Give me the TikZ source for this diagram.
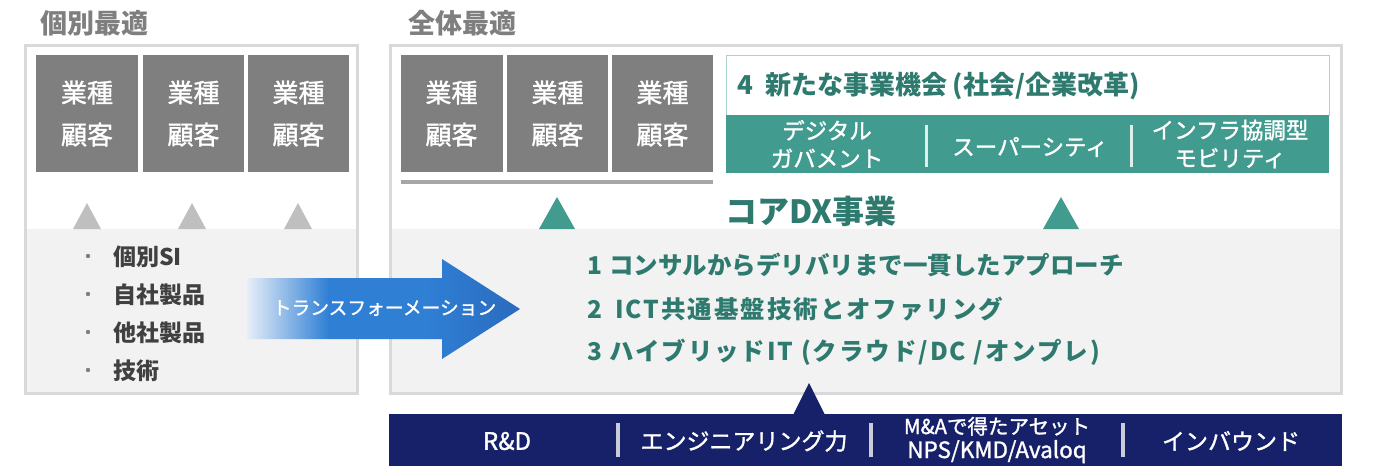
\documentclass[tikz,border=0pt]{standalone}
\usepackage{fontspec}
\setmainfont{Noto Sans CJK JP}
\newfontface\med[FakeBold=1.3]{Noto Sans CJK JP}
\definecolor{boxgray}{HTML}{7F7F7F}
\definecolor{bordergray}{HTML}{D9D9D9}
\definecolor{lightbg}{HTML}{F2F2F2}
\definecolor{trigray}{HTML}{BFBFBF}
\definecolor{bargray}{HTML}{A6A6A6}
\definecolor{tealband}{HTML}{429B8F}
\definecolor{tealline}{HTML}{A9D3CD}
\definecolor{tealtext}{HTML}{2E7A6F}
\definecolor{navyband}{HTML}{172169}
\definecolor{textdark}{HTML}{404040}
\definecolor{sepnavy}{HTML}{C9CCD9}
\definecolor{septeal}{HTML}{DDEFEC}
\definecolor{arrowpale}{HTML}{E6EEF8}
\definecolor{arrowblue}{HTML}{2F7FD5}
\definecolor{arrowdark}{HTML}{2A6BBE}
\pgfdeclarehorizontalshading{tfshade}{100bp}{color(0bp)=(arrowpale); color(25bp)=(arrowpale); color(40bp)=(arrowblue); color(58bp)=(arrowblue); color(75bp)=(arrowdark); color(100bp)=(arrowdark)}
\newcommand{\fs}[2]{\fontsize{#1}{#2}\selectfont}
\begin{document}
\begin{tikzpicture}[x=1pt,y=-1pt,
  graybox/.style={fill=boxgray, text=white, minimum width=102pt, minimum height=117pt, inner sep=0pt, align=center, font=\med\fs{26}{42}},
  title/.style={anchor=west, inner sep=0pt, text=boxgray, font=\bfseries\fs{27}{30}},
  bullettext/.style={anchor=west, inner sep=0pt, text=textdark, font=\bfseries\fs{23}{26}},
  dxline/.style={anchor=west, inner sep=0pt, text=tealtext, font=\bfseries\fs{24.5}{28}},
  banditem/.style={inner sep=0pt, text=white, align=center, font=\med\fs{22.5}{28}},
  navyitem/.style={inner sep=0pt, text=white, align=center, font=\med\fs{23}{24}},
  frame/.style={draw=bordergray, line width=3pt}
]
\useasboundingbox (0,0) rectangle (1386,466);

% titles
\node[title] (t1) at (40,23) {個別最適};
\node[title] (t2) at (408,23) {全体最適};

% left frame
\fill[lightbg] (25,229) rectangle (357.5,393.5);
\draw[frame] (25,45) rectangle (357.5,393.5);
% right frame
\fill[lightbg] (390,229) rectangle (1341.5,393.5);
\draw[frame] (390,45) rectangle (1341.5,393.5);

% left gray boxes
\node[graybox] (l1) at (87,113.5) {業種\\顧客};
\node[graybox, minimum width=101pt] (l2) at (193.5,113.5) {業種\\顧客};
\node[graybox, minimum width=101pt] (l3) at (298.5,113.5) {業種\\顧客};
% gray triangles
\fill[trigray] (73,229) -- (87,203) -- (101,229) -- cycle;
\fill[trigray] (178,229) -- (192,203) -- (206,229) -- cycle;
\fill[trigray] (284,229) -- (298,203) -- (312,229) -- cycle;

% bullets
\foreach \yy in {256,294,332,370} \fill[boxgray] (88,\yy) circle (2.2);
\node[bullettext] (b1) at (113,257) {個別SI};
\node[bullettext] (b2) at (113,295) {自社製品};
\node[bullettext] (b3) at (113,333) {他社製品};
\node[bullettext] (b4) at (113,371) {技術};

% right gray boxes
\node[graybox] (r1) at (451.5,113.5) {業種\\顧客};
\node[graybox, minimum width=101pt] (r2) at (557.5,113.5) {業種\\顧客};
\node[graybox, minimum width=101pt] (r3) at (662.5,113.5) {業種\\顧客};
\fill[bargray] (401,180) rectangle (713,184);

% new business box
\node[draw=tealline, line width=1pt, minimum width=603pt, minimum height=60pt, inner sep=0pt] (newbiz) at (1027.5,85) {};
\node[anchor=west, inner sep=0pt, text=tealtext, font=\bfseries\fs{26}{28}] (newbiztxt) at (737,86) {4\hspace{12pt}新たな事業機会 (社会/企業改革)};
\node[fill=tealband, minimum width=603pt, minimum height=58pt, inner sep=0pt] (band) at (1027.5,144) {};
\node[banditem] (bi1) at (827,144) {デジタル\\ガバメント};
\node[banditem] (bi2) at (1030,147) {スーパーシティ};
\node[banditem] (bi3) at (1230,144) {インフラ協調型\\モビリティ};
\draw[septeal, line width=3pt] (926,125) -- (926,167);
\draw[septeal, line width=3pt] (1131,125) -- (1131,167);

% core DX
\node[anchor=west, inner sep=0pt, text=tealtext, font=\bfseries\fs{32}{36}] (core) at (725,211) {コアDX事業};
\fill[tealband] (539,229) -- (557,197) -- (575,229) -- cycle;
\fill[tealband] (1043,229) -- (1061,197) -- (1079,229) -- cycle;

% list
\node[dxline] (d1) at (587,265) {1\hspace{7pt}コンサルからデリバリまで一貫したアプローチ};
\node[dxline] (d2) at (587,309) {\addfontfeature{LetterSpace=8}2\hspace{13pt}ICT共通基盤技術とオファリング};
\node[dxline] (d3) at (587,352) {\addfontfeature{LetterSpace=8}3\hspace{7pt}ハイブリッドIT (クラウド/DC /オンプレ)};

% transformation arrow
\shade[shading=tfshade] (247,278) -- (442,278) -- (442,259) -- (520,309) -- (442,359) -- (442,339) -- (247,339) -- cycle;
\node[inner sep=0pt, text=white, font=\med\fs{18.75}{22}] (tf) at (384.5,308) {トランスフォーメーション};

% navy band
\node[fill=navyband, minimum width=953pt, minimum height=52pt, inner sep=0pt] (navy) at (865.5,440) {};
\fill[navyband] (793,415) -- (809,383) -- (825,415) -- cycle;
\node[navyitem, font=\med\fs{24}{24}] (n1) at (507,441) {R\&D};
\node[navyitem] (n2) at (744,441) {エンジニアリング力};
\node[navyitem, font=\med\fs{20.5}{24}] (n3) at (997,440) {M\&Aで得たアセット\\{\fs{22.5}{24}NPS/KMD/Avaloq}};
\node[navyitem] (n4) at (1231,441) {インバウンド};
\draw[sepnavy, line width=3.5pt] (618,423) -- (618,457);
\draw[sepnavy, line width=3.5pt] (871,423) -- (871,457);
\draw[sepnavy, line width=3.5pt] (1123,423) -- (1123,457);
\end{tikzpicture}
\end{document}
